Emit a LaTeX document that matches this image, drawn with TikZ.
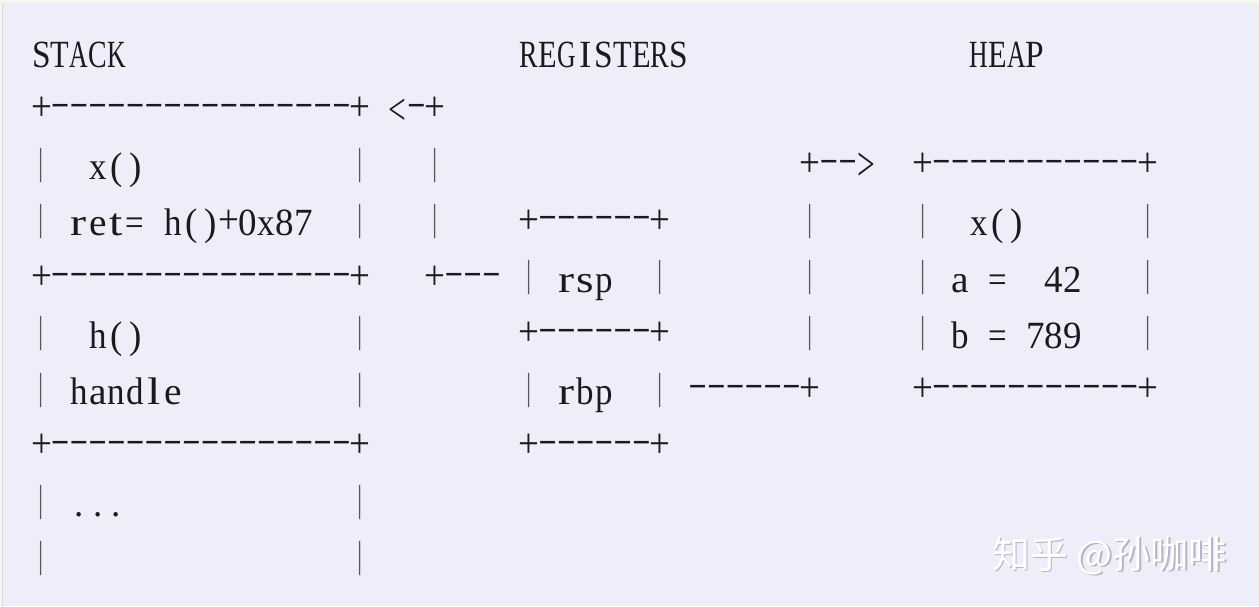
\documentclass[tikz,border=0pt]{standalone}
\usepackage{fontspec}
\setmainfont{Liberation Serif}
\newfontfamily\cjkfont{Noto Sans CJK SC}
\usepackage{graphicx}
\definecolor{rkouter}{HTML}{F6F7F1}
\definecolor{rkbg}{HTML}{EEEEFA}
\definecolor{rkedge}{HTML}{DADADF}
\definecolor{rkink}{HTML}{1A1A1A}
\definecolor{rkbar}{HTML}{55555C}
\definecolor{rkshadow}{HTML}{B4B4C4}
\ExplSyntaxOn
\dim_new:N \l_rk_cw_dim
\dim_set:Nn \l_rk_cw_dim {18.75pt}
\dim_new:N \l_rk_raise_dim
\box_new:N \l_rk_box
\fp_new:N \l_rk_fp
\cs_new_protected:Npn \rk_cell:n #1 { \makebox[\l_rk_cw_dim][c]{#1} }
\cs_new_protected:Npn \rk_axis:nnnn #1#2#3#4
  {
    \hbox_set:Nn \l_rk_box { \scalebox{#2}[#3]{#4} }
    \dim_set:Nn \l_rk_raise_dim { #1 - ( \box_ht:N \l_rk_box - \box_dp:N \l_rk_box ) / 2 }
    \rk_cell:n { \raisebox{\l_rk_raise_dim}{\box_use:N \l_rk_box} }
  }
\cs_new_protected:Npn \rk_letter:n #1
  {
    \hbox_set:Nn \l_rk_box {#1}
    \str_if_in:nnTF { abcdefghijklmnopqrstuvwxyz } {#1}
      { \fp_set:Nn \l_rk_fp { min(1.3, 17.5 / \dim_to_fp:n { \box_wd:N \l_rk_box + 0.01pt }) } }
      { \fp_set:Nn \l_rk_fp { min(1.0, 18.6 / \dim_to_fp:n { \box_wd:N \l_rk_box + 0.01pt }) } }
    \rk_cell:n { \scalebox{\fp_use:N \l_rk_fp}[1.04]{#1} }
  }
\cs_new_protected:Npn \rk_char:n #1
  {
    \str_case:nnF {#1}
      {
        {+} { \rk_axis:nnnn {14.5pt}{1.0}{1.12}{+} }
        {-} { \rk_axis:nnnn {14.5pt}{1.55}{0.9}{-} }
        {|} { \rk_axis:nnnn {14.5pt}{0.7}{1.02}{\textcolor{rkbar}{|}} }
        {<} { \rk_axis:nnnn {11.5pt}{0.85}{1.2}{<} }
        {>} { \rk_axis:nnnn {13pt}{0.85}{1.3}{>} }
        {_} { \rk_cell:n {} }
      }
      { \rk_letter:n {#1} }
  }
\NewDocumentCommand \rkmono { m } { \str_map_inline:nn {#1} { \rk_char:n {##1} } }
\ExplSyntaxOff
\begin{document}
\begin{tikzpicture}[x=1pt,y=-1pt,
  mono/.style={anchor=base west,inner sep=0pt,outer sep=0pt,text=rkink,
    font=\fontsize{37pt}{40pt}\selectfont},
  cr/.style 2 args={at={({32.125+18.75*#1},{67.3+56.2*#2})}},
  wm/.style={anchor=base west,inner sep=0pt,font=\cjkfont\fontsize{38pt}{42pt}\selectfont}]
\useasboundingbox (0,0) rectangle (1259,606);
\fill[rkouter] (0,0) rectangle (1259,606);
\fill[rkbg] (3,3) rectangle (1258,606);
\draw[rkedge,line width=1pt] (2,3) -- (2,606);
% titles
\node[mono,cr={0}{0}] (stacktitle) {\rkmono{STACK}};
\node[mono,cr={26}{0}] (regtitle) {\rkmono{REGISTERS}};
\node[mono,cr={50}{0}] (heaptitle) {\rkmono{HEAP}};
% stack
\node[mono,cr={0}{1}] (stacktop) {\rkmono{+----------------+}};
\node[mono,cr={0}{2}] (framex) {\rkmono{|__x()___________|}};
\node[mono,cr={0}{3}] (frameret) {\rkmono{|_ret=_h()+0x87__|}};
\node[mono,cr={0}{4}] (stackmid) {\rkmono{+----------------+}};
\node[mono,cr={0}{5}] (frameh) {\rkmono{|__h()___________|}};
\node[mono,cr={0}{6}] (framehandle) {\rkmono{|_handle_________|}};
\node[mono,cr={0}{7}] (stacklow) {\rkmono{+----------------+}};
\node[mono,cr={0}{8}] (framedots) {\rkmono{|_...____________|}};
\node[mono,cr={0}{9}] (frameempty) {\rkmono{|________________|}};
% rsp -> stack arrow
\node[mono,cr={19}{1}] (rsparrowhead) {\rkmono{<-+}};
\node[mono,cr={21}{2}] (rspline1) {\rkmono{|}};
\node[mono,cr={21}{3}] (rspline2) {\rkmono{|}};
\node[mono,cr={21}{4}] (rsptail) {\rkmono{+---}};
% registers
\node[mono,cr={26}{3}] (regtop) {\rkmono{+------+}};
\node[mono,cr={26}{4}] (rsp) {\rkmono{|_rsp__|}};
\node[mono,cr={26}{5}] (regmid) {\rkmono{+------+}};
\node[mono,cr={26}{6}] (rbp) {\rkmono{|_rbp__|}};
\node[mono,cr={26}{7}] (regbot) {\rkmono{+------+}};
% rbp -> heap arrow
\node[mono,cr={35}{6}] (rbptail) {\rkmono{------+}};
\node[mono,cr={41}{5}] (rbpline3) {\rkmono{|}};
\node[mono,cr={41}{4}] (rbpline2) {\rkmono{|}};
\node[mono,cr={41}{3}] (rbpline1) {\rkmono{|}};
\node[mono,cr={41}{2}] (rbparrowhead) {\rkmono{+-->}};
% heap
\node[mono,cr={47}{2}] (heaptop) {\rkmono{+-----------+}};
\node[mono,cr={47}{3}] (heapx) {\rkmono{|__x()______|}};
\node[mono,cr={47}{4}] (heapa) {\rkmono{|_a_=__42___|}};
\node[mono,cr={47}{5}] (heapb) {\rkmono{|_b_=_789___|}};
\node[mono,cr={47}{6}] (heapbot) {\rkmono{+-----------+}};
% watermark
\node[wm,text=rkshadow] (wmshadow) at (993.5,569.5) {知乎 @孙咖啡};
\node[wm,text=white] (wm) at (992,568) {知乎 @孙咖啡};
\end{tikzpicture}
\end{document}
